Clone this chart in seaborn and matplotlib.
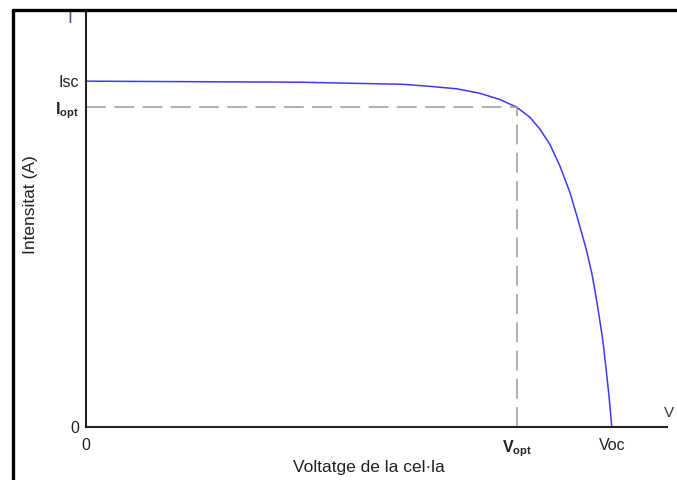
import numpy as np
import pandas as pd
import matplotlib
matplotlib.use("Agg")
import matplotlib.pyplot as plt
import seaborn as sns
from matplotlib.lines import Line2D

# I-V curve of a solar cell (normalised units: Voc = 1, Isc = 1)
voltage = [0.0, 0.407, 0.502, 0.603, 0.654, 0.705, 0.749, 0.787, 0.819, 0.844, 0.863,
           0.882, 0.901, 0.920, 0.935, 0.951, 0.962, 0.969, 0.976, 0.983, 0.989, 0.995, 1.0]
current = [1.0, 0.997, 0.994, 0.991, 0.985, 0.978, 0.965, 0.947, 0.925, 0.896, 0.862,
           0.818, 0.756, 0.680, 0.603, 0.516, 0.445, 0.385, 0.320, 0.250, 0.170, 0.085, 0.0]
v_opt = 0.819
i_opt = 0.925
x_ticks = [0.0, v_opt, 1.0]
x_labels = ["0", r"$\mathbf{V_{opt}}$", "Voc"]
y_ticks = [0.0, i_opt, 1.0]
y_labels = ["0", r"$\mathbf{I_{opt}}$", "Isc"]

df = pd.DataFrame({"V": voltage, "I": current})

sns.set_style("white")
plt.rcParams["font.family"] = ["Liberation Sans", "DejaVu Sans"]
plt.rcParams["mathtext.fontset"] = "custom"
plt.rcParams["mathtext.rm"] = "Liberation Sans"
plt.rcParams["mathtext.bf"] = "Liberation Sans:bold"

fig = plt.figure(figsize=(6.77, 4.80), dpi=100)
ax = fig.add_axes([86 / 677, 53 / 480, 581 / 677, 415 / 480])

sns.lineplot(data=df, x="V", y="I", sort=False, color="#3a3aff", linewidth=1.1, ax=ax)

# optimum point guide lines
dash = (0, (13, 5.5))
ax.plot([0, v_opt], [i_opt, i_opt], color="#999999", linestyle=dash, linewidth=1.1)
ax.plot([v_opt, v_opt], [0, i_opt], color="#999999", linestyle=dash, linewidth=1.1)

ax.set_xlim(0, 1.105)
ax.set_ylim(0, 1.2)
sns.despine(ax=ax)
for s in ["left", "bottom"]:
    ax.spines[s].set_color("#222222")
    ax.spines[s].set_linewidth(1.5)

ax.set_xticks(x_ticks)
ax.set_xticklabels(x_labels)
ax.set_yticks(y_ticks)
ax.set_yticklabels(y_labels)
ax.tick_params(axis="both", length=0, labelsize=11.5, colors="#222222")
ax.tick_params(axis="x", pad=8)
ax.tick_params(axis="y", pad=5)

ax.set_xlabel("Voltatge de la cel·la", fontsize=12.5, color="#222222")
ax.set_ylabel("Intensitat (A)", fontsize=12.5, color="#222222")
ax.xaxis.set_label_coords(0.487, -0.08)
ax.yaxis.set_label_coords(-0.082, 0.535)

# axis name letters
ax.text(-0.025, 1.18, "I", transform=ax.transData, ha="right", va="center",
        fontsize=13, color="#3a5a9a", clip_on=False)
ax.text(1.100, 0.04, "V", transform=ax.transData, ha="left", va="center",
        fontsize=11, color="#333333", clip_on=False)

# outer frame (top and left edges visible)
fig.add_artist(Line2D([13 / 677, 13 / 677], [0, 470 / 480], color="black", linewidth=2.4,
                      transform=fig.transFigure))
fig.add_artist(Line2D([13 / 677, 1], [470 / 480, 470 / 480], color="black", linewidth=2.4,
                      transform=fig.transFigure))

fig.savefig("out.png", dpi=100, facecolor="white")
